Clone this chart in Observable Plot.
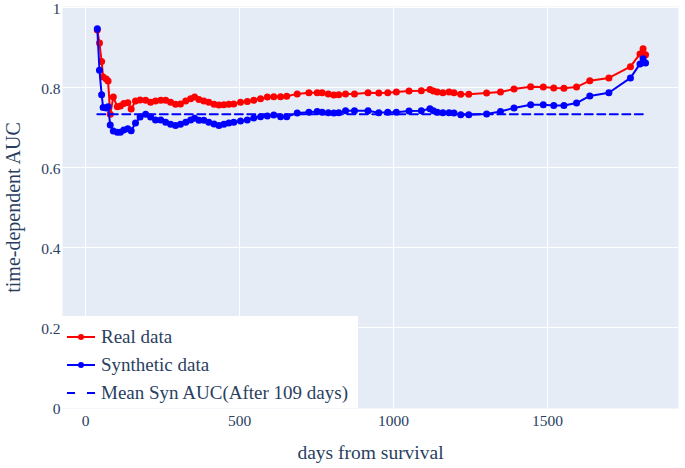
<!DOCTYPE html>
<html>
<head>
<meta charset="utf-8">
<script src="https://cdn.jsdelivr.net/npm/d3@7"></script>
<script src="https://cdn.jsdelivr.net/npm/@observablehq/plot@0.6"></script>
<style>
  body { margin: 0; background: white; }
  #wrap { position: relative; width: 685px; height: 468px; }
  #legend { position: absolute; left: 62px; top: 316px; width: 296px; height: 92px; background: white;
    font-family: "Liberation Serif", serif; font-size: 19px; color: #2a3f5f; }
  .item { position: absolute; left: 0; height: 28px; display: flex; align-items: center; }
  .item svg { margin-left: 5px; margin-right: 6px; }
</style>
</head>
<body>
<div id="wrap"></div>
<script>
const days = [38,45,52,57,67,73,80,90,103,113,
  124,137,148,162,177,195,211,227,244,260,
  276,292,308,325,341,354,368,384,400,417,
  433,449,465,481,503,525,546,568,590,611,
  633,653,687,725,752,768,788,806,822,844,
  873,917,952,981,1009,1050,1090,1118,1129,1142,
  1160,1180,1196,1218,1244,1302,1347,1391,1445,1486,
  1520,1553,1594,1637,1699,1769,1800,1810,1818];
const realAUC = [.944,.911,.865,.826,.821,.816,.733,.776,.752,.754,
  .760,.762,.746,.766,.769,.768,.763,.766,.768,.768,
  .763,.758,.759,.766,.772,.776,.770,.766,.763,.758,
  .756,.757,.758,.759,.763,.765,.768,.772,.776,.777,
  .777,.778,.784,.787,.787,.787,.784,.781,.782,.784,
  .784,.787,.786,.787,.789,.791,.792,.795,.791,.789,
  .787,.789,.787,.783,.783,.786,.789,.796,.802,.801,
  .799,.798,.801,.817,.824,.852,.884,.897,.882];
const synAUC = [.947,.843,.782,.750,.749,.752,.706,.691,.688,.688,
  .694,.697,.692,.711,.726,.733,.726,.719,.719,.713,
  .708,.705,.708,.713,.719,.723,.718,.718,.713,.709,
  .705,.708,.711,.713,.716,.719,.724,.727,.729,.731,
  .727,.727,.736,.738,.740,.738,.737,.736,.737,.742,
  .742,.742,.737,.738,.738,.741,.742,.747,.742,.738,
  .737,.737,.736,.732,.732,.734,.740,.749,.757,.757,
  .755,.755,.761,.779,.787,.824,.859,.872,.861];
const meanSynAUC = 0.733;
const meanRange = [38, 1812];
const xTicks = [0, 500, 1000, 1500];
const yTicks = [0, 0.2, 0.4, 0.6, 0.8, 1];
const seriesNames = ["Real data", "Synthetic data", "Mean Syn AUC(After 109 days)"];
const colors = ["#ff0000", "#0000ff"];

const real = days.map((d, i) => ({day: d, auc: realAUC[i]}));
const syn = days.map((d, i) => ({day: d, auc: synAUC[i]}));
const meanLine = meanRange.map(d => ({day: d, auc: meanSynAUC}));

const chart = Plot.plot({
  width: 685, height: 468,
  marginLeft: 62, marginRight: 7, marginTop: 6, marginBottom: 60,
  x: {domain: [-75, 1925]},
  y: {domain: [-0.0025, 1.0025]},
  style: {fontFamily: "Liberation Serif", fontSize: "15.5px", color: "#2a3f5f", background: "white"},
  marks: [
    Plot.frame({fill: "#e5ecf6", stroke: null}),
    Plot.gridX(xTicks, {stroke: "white", strokeOpacity: 1, strokeWidth: 1}),
    Plot.gridY(yTicks.slice(1), {stroke: "white", strokeOpacity: 1, strokeWidth: 1}),
    Plot.axisX(xTicks, {tickSize: 0, tickPadding: 6, label: null, tickFormat: d => String(d), fontSize: 15.5}),
    Plot.axisX([], {tickSize: 0, label: "days from survival", labelArrow: "none", labelAnchor: "center", labelOffset: 50, fontSize: 19.5}),
    Plot.axisY(yTicks, {tickSize: 0, tickPadding: 2, dy: 2, label: null, tickFormat: d => String(+d.toFixed(1)), fontSize: 15.5}),
    Plot.axisY([], {tickSize: 0, label: "time-dependent AUC", labelArrow: "none", labelAnchor: "center", labelOffset: 57, fontSize: 20}),
    Plot.line(real, {x: "day", y: "auc", stroke: colors[0], strokeWidth: 2}),
    Plot.dot(real, {x: "day", y: "auc", fill: colors[0], r: 3.5}),
    Plot.line(syn, {x: "day", y: "auc", stroke: colors[1], strokeWidth: 2}),
    Plot.dot(syn, {x: "day", y: "auc", fill: colors[1], r: 3.5}),
    Plot.line(meanLine, {x: "day", y: "auc", stroke: colors[1], strokeWidth: 2, strokeDasharray: "8,4.5"})
  ]
});
const wrap = document.getElementById("wrap");
wrap.appendChild(chart);

const legend = document.createElement("div");
legend.id = "legend";
seriesNames.forEach((name, i) => {
  const item = document.createElement("div");
  item.className = "item";
  item.style.top = (7 + i * 28) + "px";
  const c = colors[Math.min(i, 1)];
  const sym = i < 2
    ? `<svg width="28" height="10"><line x1="0" y1="5" x2="28" y2="5" stroke="${c}" stroke-width="2"/><circle cx="14" cy="5" r="3" fill="${c}"/></svg>`
    : `<svg width="28" height="10"><line x1="0" y1="5" x2="28" y2="5" stroke="${c}" stroke-width="2" stroke-dasharray="8,12"/></svg>`;
  item.innerHTML = sym + `<span>${name}</span>`;
  legend.appendChild(item);
});
wrap.appendChild(legend);
</script>
</body>
</html>
